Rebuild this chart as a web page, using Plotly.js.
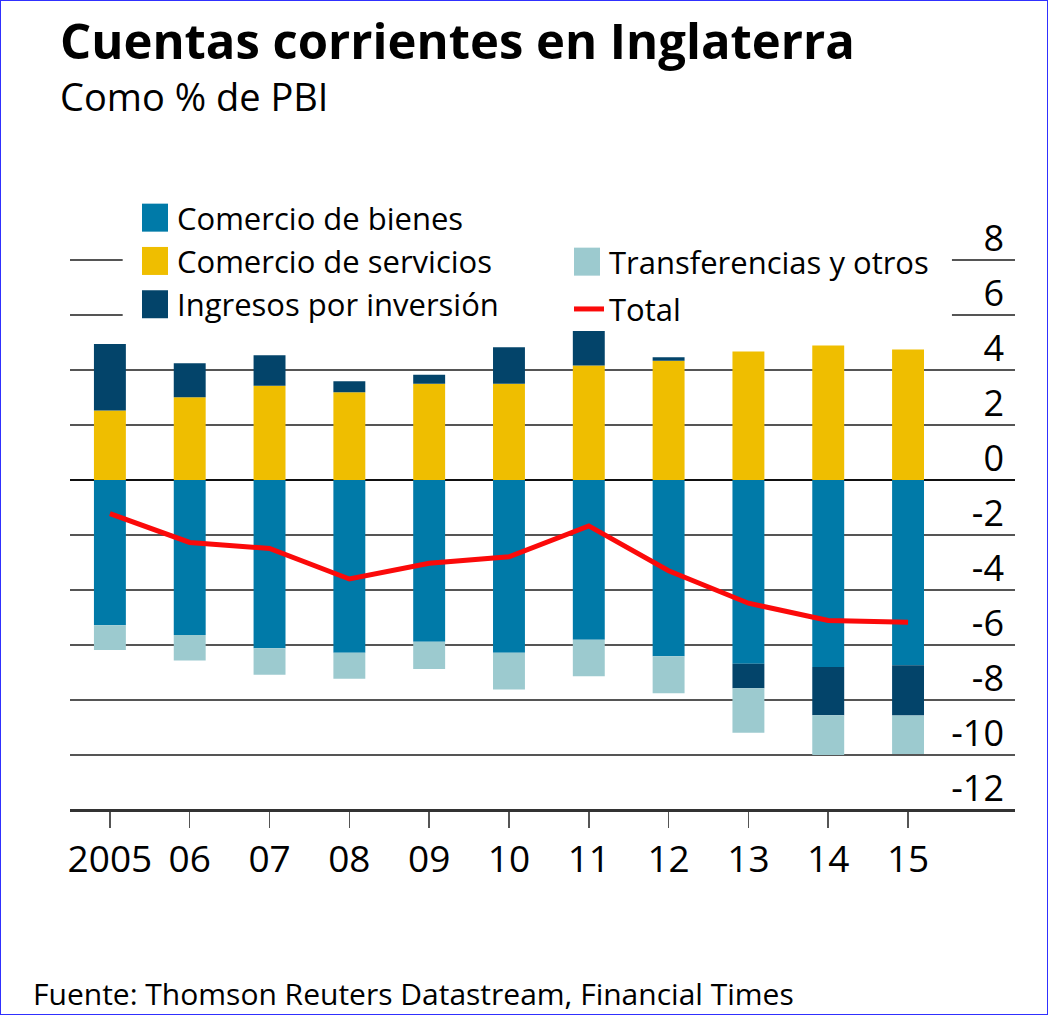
<!DOCTYPE html>
<html>
<head>
<meta charset="utf-8">
<script src="https://cdn.plot.ly/plotly-3.0.1.min.js"></script>
<style>
  html, body { margin:0; padding:0; background:#fff; }
  #chart { position:absolute; left:0; top:0; width:1048px; height:1015px; }
  #frame { position:absolute; left:0; top:0; width:1048px; height:1015px; box-sizing:border-box; border:1px solid #3030ff; pointer-events:none; }
</style>
</head>
<body>
<div id="chart"></div>
<div id="frame"></div>
<script>
const years = ['2005','06','07','08','09','10','11','12','13','14','15'];
const goods = [-5.28,-5.64,-6.12,-6.28,-5.88,-6.28,-5.81,-6.41,-6.68,-6.80,-6.74];
const services = [2.53,3.01,3.43,3.19,3.50,3.50,4.16,4.34,4.67,4.89,4.75];
const investment = [2.42,1.24,1.11,0.40,0.33,1.33,1.26,0.12,-0.89,-1.75,-1.82];
const transfers = [-0.90,-0.92,-0.96,-0.95,-0.99,-1.34,-1.33,-1.34,-1.62,-1.45,-1.40];
const total = [-1.22,-2.27,-2.49,-3.60,-3.03,-2.79,-1.67,-3.30,-4.48,-5.11,-5.17];
const yTickVals = [8,6,4,2,0,-2,-4,-6,-8,-10,-12];
const yTickText = ['8','6','4','2','0','-2','-4','-6','-8','-10','-12'];

const FONT = 'Open Sans, sans-serif';
// plot area (px); value 8 sits at y=260 and -12 at y=810 (27.5 px per unit)
const PT = 205, PB = 845, PL = 70, PR = 1015;
const UNIT = 27.5;
const yTop = 8 + (260 - PT) / UNIT;
const yBot = -12 - (PB - 810) / UNIT;
const py = v => (PB - v) / (PB - PT);      // pixel -> paper y
const px = v => (v - PL) / (PR - PL);      // pixel -> paper x

const bar = (name, y, color, legend, group) => ({
  type:'bar', name, x: years, y, legend, legendgroup: group,
  marker:{color, line:{width:0}}, hoverinfo:'skip'
});

const traces = [
  bar('Comercio de bienes', goods, '#007aa8', 'legend', 'g1'),
  bar('Comercio de servicios', services, '#efbe00', 'legend', 'g2'),
  bar('Ingresos por inversión', investment, '#03446a', 'legend', 'g3'),
  bar('Transferencias y otros', transfers, '#9ccacf', 'legend2', 'g4'),
  {type:'scatter', mode:'lines', name:'Total', x: years, y: total, legend:'legend2', legendgroup:'g5',
   line:{color:'#fb0a0a', width:5}, hoverinfo:'skip'}
];

const layout = {
  width:1048, height:1015,
  paper_bgcolor:'#fff', plot_bgcolor:'#fff',
  margin:{l:PL, r:1048-PR, t:PT, b:1015-PB},
  barmode:'relative', bargap:0.6,
  showlegend:true,
  title:{text:'<b>Cuentas corrientes en Inglaterra</b>', xref:'container', yref:'container',
         x:60/1048, xanchor:'left', y:1-42/1015, yanchor:'middle',
         font:{family:FONT, size:49, color:'#000'}},
  font:{family:FONT, color:'#000'},
  xaxis:{type:'category', range:[-0.5, 11.34], showgrid:false, zeroline:false,
         anchor:'free', position:py(810),
         showline:true, linecolor:'#333', linewidth:3,
         ticks:'outside', ticklen:16, tickwidth:1.5, tickcolor:'#555',
         tickfont:{family:FONT, size:37, color:'#000'}, ticklabelstandoff:0, fixedrange:true},
  yaxis:{side:'right', range:[yBot, yTop], tickvals:yTickVals, ticktext:yTickText,
         showgrid:true, gridcolor:'#555', gridwidth:2,
         zeroline:true, zerolinecolor:'#111', zerolinewidth:2.5,
         showline:false, ticks:'', ticklabelposition:'inside', ticklabelshift:-22, ticklabelstandoff:8,
         tickfont:{family:FONT, size:36, color:'#000'}, fixedrange:true},
  legend:{x:px(137), xanchor:'left', y:py(191), yanchor:'top',
          bgcolor:'rgba(0,0,0,0)', font:{family:FONT, size:31, color:'#000'},
          tracegroupgap:0, itemclick:false, itemdoubleclick:false},
  legend2:{x:px(569), xanchor:'left', y:py(235), yanchor:'top',
          bgcolor:'rgba(0,0,0,0)', font:{family:FONT, size:31, color:'#000'},
          tracegroupgap:4, itemclick:false, itemdoubleclick:false},
  shapes:[{type:'rect', xref:'x', yref:'y', x0:0.16, x1:10.55,
           y0:5.6, y1:yTop, fillcolor:'#fff', line:{width:0}, layer:'between'}],
  annotations:[
    {text:'Como % de PBI', xref:'paper', yref:'paper', x:px(58), y:py(96),
     xanchor:'left', yanchor:'middle', showarrow:false, font:{family:FONT, size:38, color:'#000'}},
    {text:'Fuente: Thomson Reuters Datastream, Financial Times', xref:'paper', yref:'paper',
     x:px(31), y:py(993), xanchor:'left', yanchor:'middle', showarrow:false,
     font:{family:FONT, size:30, color:'#000'}}
  ]
};

// enlarge the bar swatches in the legends to the reference's larger keys (26 x 28 px)
const RECT_RE = /^M\s*([-\d.]+)[ ,]([-\d.]+)\s*H\s*([-\d.]+)\s*V\s*([-\d.]+)\s*H\s*([-\d.]+)\s*Z$/i;
function fixSwatches() {
  document.querySelectorAll('.legendpoints path').forEach(p => {
    const d = (p.getAttribute('d') || '').trim();
    const m = d.match(RECT_RE);
    if (!m) return;
    const x1 = +m[1], y1 = +m[2], x2 = +m[3], y2 = +m[4];
    if (Math.abs(x1 - x2) > 20) return;            // already enlarged
    const cx = (x1 + x2) / 2 - 2, cy = (y1 + y2) / 2;
    p.setAttribute('d', `M${cx + 13},${cy + 14}H${cx - 13}V${cy - 14}H${cx + 13}Z`);
  });
}

const gd = document.getElementById('chart');
Plotly.newPlot(gd, traces, layout, {displayModeBar:false, staticPlot:true}).then(() => {
  fixSwatches();
  gd.on('plotly_afterplot', fixSwatches);
  requestAnimationFrame(fixSwatches);
});
</script>
</body>
</html>
